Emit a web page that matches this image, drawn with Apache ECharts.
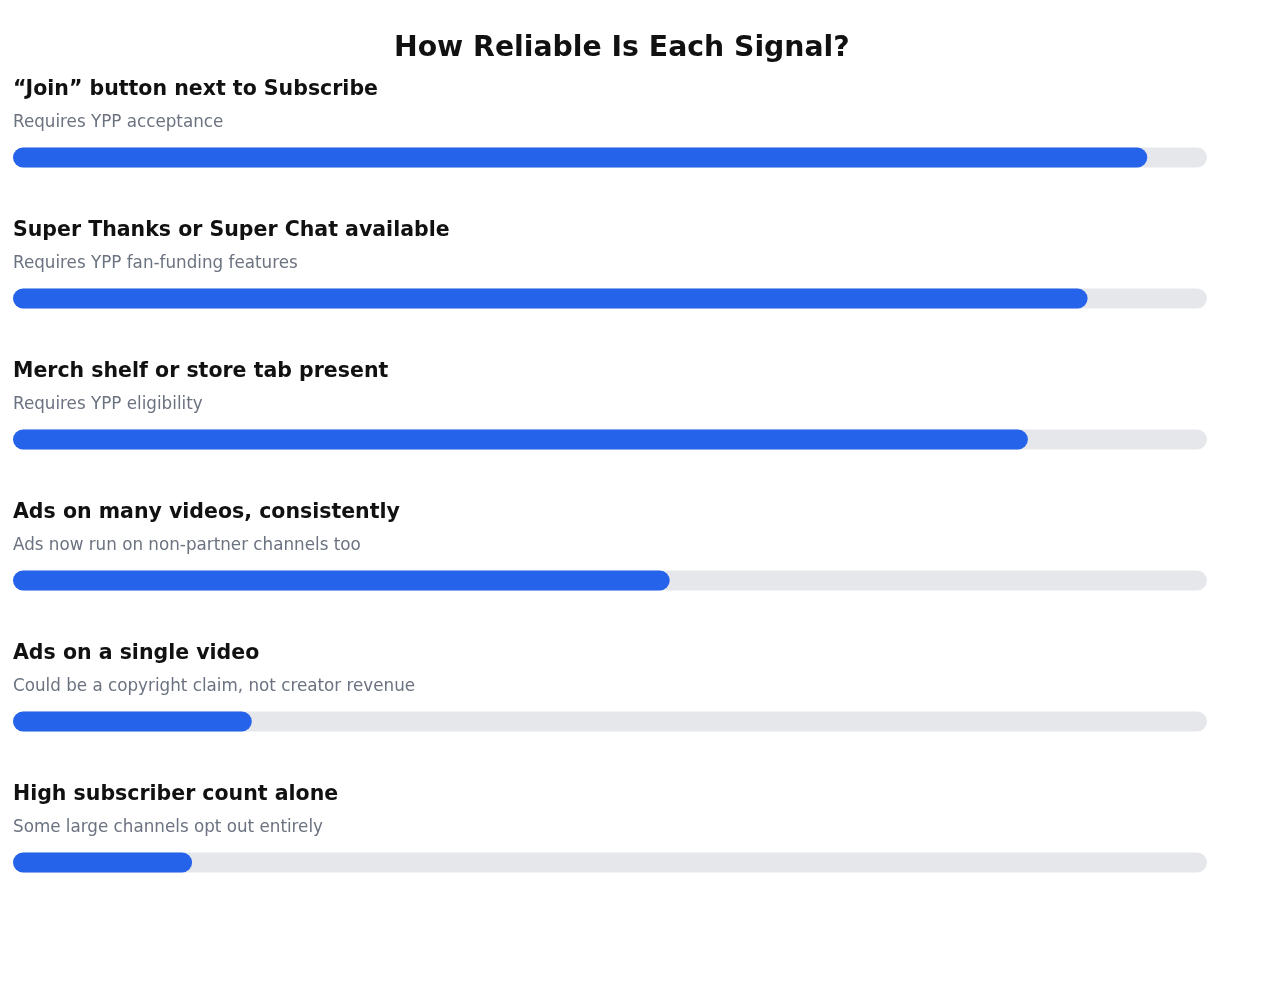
<!DOCTYPE html>
<html><head><meta charset="utf-8">
<script src="https://cdn.jsdelivr.net/npm/echarts@6/dist/echarts.min.js"></script>
<style>html,body{margin:0;padding:0;background:#fff}#c{width:1280px;height:994px}</style>
</head><body><div id="c"></div>
<script>
const categories = ["“Join” button next to Subscribe","Super Thanks or Super Chat available","Merch shelf or store tab present","Ads on many videos, consistently","Ads on a single video","High subscriber count alone"];
const notes = ["Requires YPP acceptance","Requires YPP fan-funding features","Requires YPP eligibility","Ads now run on non-partner channels too","Could be a copyright claim, not creator revenue","Some large channels opt out entirely"];
const reliability = [95, 90, 85, 55, 20, 15];
const maxValue = 100;

const chart = echarts.init(document.getElementById('c'));
chart.setOption({
  animation: false,
  textStyle: {fontFamily: 'DejaVu Sans'},
  title: {text: 'How Reliable Is Each Signal?', left: 389, top: 30,
    textStyle: {fontSize: 28.3, fontWeight: 'bold', color: '#111111', fontFamily: 'DejaVu Sans'}},
  grid: {left: 13, right: 73, top: 87, bottom: 61, containLabel: false},
  xAxis: {type: 'value', min: 0, max: maxValue, show: false},
  yAxis: {type: 'category', data: categories, inverse: true, show: false},
  series: [{
    type: 'bar', barWidth: 20,
    data: reliability.map((v, i) => ({value: v, note: notes[i]})),
    itemStyle: {color: '#2563eb', borderRadius: 10},
    showBackground: true,
    backgroundStyle: {color: '#e5e7eb', borderRadius: 10},
    label: {show: true, position: [0, -74], align: 'left', verticalAlign: 'top',
      formatter: p => '{n|' + p.name + '}\n{d|' + notes[p.dataIndex] + '}',
      rich: {
        n: {fontSize: 20.5, fontWeight: 'bold', color: '#111111', lineHeight: 32, fontFamily: 'DejaVu Sans'},
        d: {fontSize: 16.75, color: '#6b7280', lineHeight: 34, fontFamily: 'DejaVu Sans'}
      }}
  }]
});
</script></body></html>
